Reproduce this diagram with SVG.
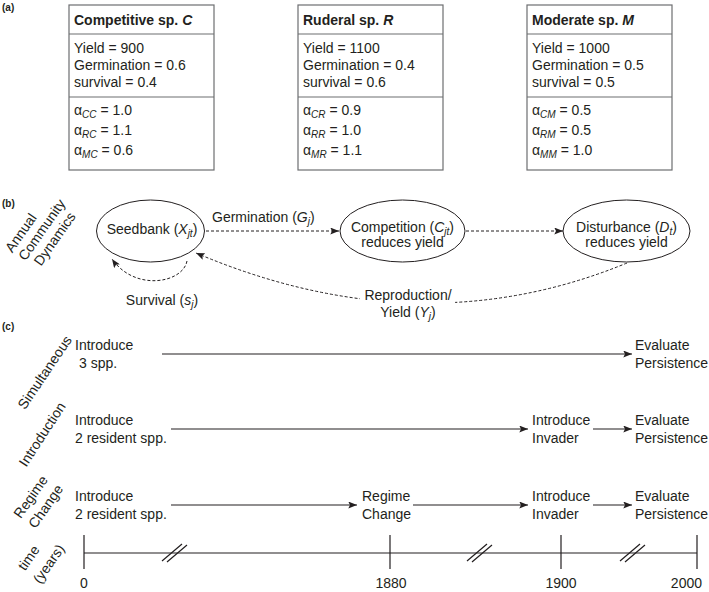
<svg xmlns="http://www.w3.org/2000/svg" width="709" height="592" viewBox="0 0 709 592">
<style>
text { font-family: "Liberation Sans", Arial, sans-serif; font-size: 14px; fill: #231f20; }
.b { font-weight: bold; }
.i { font-style: italic; }
.sub { font-size: 10px; font-style: italic; }
.lbl { font-weight: bold; font-size: 10px; }
.m { text-anchor: middle; }
.box { fill: #fff; stroke: #6d6e71; stroke-width: 1.2; }
.div { stroke: #6d6e71; stroke-width: 1.2; }
.ell { fill: #fff; stroke: #231f20; stroke-width: 1; }
.solid { stroke: #231f20; stroke-width: 1.2; fill: none; }
.dash { stroke: #231f20; stroke-width: 1; stroke-dasharray: 3 2; fill: none; }
</style>
<defs>
<marker id="ah" viewBox="0 0 10 8" refX="10" refY="4" markerWidth="9" markerHeight="7" markerUnits="userSpaceOnUse" orient="auto">
<path d="M0,0 L10,4 L0,8 L2,4 z" fill="#231f20"/>
</marker>
<mask id="gap" maskUnits="userSpaceOnUse" x="0" y="0" width="709" height="592">
<rect x="0" y="0" width="709" height="592" fill="#fff"/>
<rect x="360" y="285" width="95" height="38" fill="#000"/>
</mask>
</defs>
<rect width="709" height="592" fill="#fff"/>

<!-- panel labels -->
<text class="lbl" x="2" y="11">(a)</text>
<text class="lbl" x="2" y="207">(b)</text>
<text class="lbl" x="2" y="330">(c)</text>

<!-- (a) species boxes -->
<g id="box-C">
<rect class="box" x="69" y="5" width="145" height="165"/>
<line class="div" x1="69" y1="34" x2="214" y2="34"/>
<line class="div" x1="69" y1="97" x2="214" y2="97"/>
<text class="b" x="74" y="25">Competitive sp. <tspan class="i">C</tspan></text>
<text x="74" y="53">Yield = 900</text>
<text x="74" y="70">Germination = 0.6</text>
<text x="74" y="87">survival = 0.4</text>
<text x="74" y="115">α<tspan class="sub" dy="3">CC</tspan><tspan dy="-3"> = 1.0</tspan></text>
<text x="74" y="135">α<tspan class="sub" dy="3">RC</tspan><tspan dy="-3"> = 1.1</tspan></text>
<text x="74" y="155">α<tspan class="sub" dy="3">MC</tspan><tspan dy="-3"> = 0.6</tspan></text>
</g>
<g id="box-R">
<rect class="box" x="298" y="5" width="145" height="165"/>
<line class="div" x1="298" y1="34" x2="443" y2="34"/>
<line class="div" x1="298" y1="97" x2="443" y2="97"/>
<text class="b" x="303" y="25">Ruderal sp. <tspan class="i">R</tspan></text>
<text x="303" y="53">Yield = 1100</text>
<text x="303" y="70">Germination = 0.4</text>
<text x="303" y="87">survival = 0.6</text>
<text x="303" y="115">α<tspan class="sub" dy="3">CR</tspan><tspan dy="-3"> = 0.9</tspan></text>
<text x="303" y="135">α<tspan class="sub" dy="3">RR</tspan><tspan dy="-3"> = 1.0</tspan></text>
<text x="303" y="155">α<tspan class="sub" dy="3">MR</tspan><tspan dy="-3"> = 1.1</tspan></text>
</g>
<g id="box-M">
<rect class="box" x="527" y="5" width="145" height="165"/>
<line class="div" x1="527" y1="34" x2="672" y2="34"/>
<line class="div" x1="527" y1="97" x2="672" y2="97"/>
<text class="b" x="532" y="25">Moderate sp. <tspan class="i">M</tspan></text>
<text x="532" y="53">Yield = 1000</text>
<text x="532" y="70">Germination = 0.5</text>
<text x="532" y="87">survival = 0.5</text>
<text x="532" y="115">α<tspan class="sub" dy="3">CM</tspan><tspan dy="-3"> = 0.5</tspan></text>
<text x="532" y="135">α<tspan class="sub" dy="3">RM</tspan><tspan dy="-3"> = 0.5</tspan></text>
<text x="532" y="155">α<tspan class="sub" dy="3">MM</tspan><tspan dy="-3"> = 1.0</tspan></text>
</g>

<!-- (b) rotated label -->
<g id="label-b">
<text class="m" transform="translate(21,233) rotate(-55)" y="4.5">Annual</text>
<text class="m" transform="translate(42,230) rotate(-55)" y="4.5">Community</text>
<text class="m" transform="translate(55,239) rotate(-55)" y="4.5">Dynamics</text>
</g>

<!-- (b) connectors -->
<g id="connectors-b">
<line class="dash" x1="206" y1="231" x2="339" y2="231" marker-end="url(#ah)"/>
<line class="dash" x1="466" y1="231" x2="563" y2="231" marker-end="url(#ah)"/>
<path class="dash" d="M187,261 C183,283 135,292 112,259" marker-end="url(#ah)"/>
<path class="dash" d="M627,263 Q420,348 196,253" mask="url(#gap)" marker-end="url(#ah)"/>
<text x="212" y="222">Germination (<tspan class="i">G</tspan><tspan class="sub" dy="3">j</tspan><tspan dy="-3">)</tspan></text>
<text class="m" x="162" y="305">Survival (<tspan class="i">s</tspan><tspan class="sub" dy="3">j</tspan><tspan dy="-3">)</tspan></text>
<text class="m" x="408" y="300">Reproduction/</text>
<text class="m" x="408" y="317">Yield (<tspan class="i">Y</tspan><tspan class="sub" dy="3">j</tspan><tspan dy="-3">)</tspan></text>
</g>

<!-- (b) nodes -->
<g id="seedbank">
<ellipse class="ell" cx="150.5" cy="231" rx="54" ry="31"/>
<text class="m" x="152" y="234">Seedbank (<tspan class="i">X</tspan><tspan class="sub" dy="3">jt</tspan><tspan dy="-3">)</tspan></text>
</g>
<g id="competition">
<ellipse class="ell" cx="402.5" cy="231" rx="62.5" ry="31"/>
<text class="m" x="402.5" y="232">Competition (<tspan class="i">C</tspan><tspan class="sub" dy="3">jt</tspan><tspan dy="-3">)</tspan></text>
<text class="m" x="402.5" y="247">reduces yield</text>
</g>
<g id="disturbance">
<ellipse class="ell" cx="626.5" cy="231" rx="63.5" ry="31"/>
<text class="m" x="626.5" y="232">Disturbance (<tspan class="i">D</tspan><tspan class="sub" dy="3">t</tspan><tspan dy="-3">)</tspan></text>
<text class="m" x="626.5" y="247">reduces yield</text>
</g>

<!-- (c) row labels -->
<g id="labels-c">
<text class="m" transform="translate(45,372.5) rotate(-56)" y="4.5">Simultaneous</text>
<text class="m" transform="translate(42.5,434.5) rotate(-57)" y="4.5">Introduction</text>
<text class="m" transform="translate(31,497) rotate(-55)" y="4.5">Regime</text>
<text class="m" transform="translate(46,506.5) rotate(-55)" y="4.5">Change</text>
<text class="m" transform="translate(29,558) rotate(-55)" y="4.5">time</text>
<text class="m" transform="translate(49,564) rotate(-55)" y="4.5">(years)</text>
</g>

<!-- (c) scenario nodes -->
<g id="sim-start"><text x="75" y="350">Introduce</text><text x="79" y="367.5">3 spp.</text></g>
<g id="sim-end"><text x="635" y="350">Evaluate</text><text x="635" y="367.5">Persistence</text></g>
<g id="intro-start"><text x="75" y="425">Introduce</text><text x="75" y="442.5">2 resident spp.</text></g>
<g id="intro-invader"><text x="532" y="425">Introduce</text><text x="532" y="442.5">Invader</text></g>
<g id="intro-end"><text x="635" y="425">Evaluate</text><text x="635" y="442.5">Persistence</text></g>
<g id="regime-start"><text x="75" y="501">Introduce</text><text x="75" y="518.5">2 resident spp.</text></g>
<g id="regime-change"><text x="362" y="501">Regime</text><text x="362" y="518.5">Change</text></g>
<g id="regime-invader"><text x="532" y="501">Introduce</text><text x="532" y="518.5">Invader</text></g>
<g id="regime-end"><text x="635" y="501">Evaluate</text><text x="635" y="518.5">Persistence</text></g>

<!-- (c) connectors -->
<g id="connectors-c">
<line class="solid" x1="162" y1="354" x2="632" y2="354" marker-end="url(#ah)"/>
<line class="solid" x1="171" y1="429" x2="528" y2="429" marker-end="url(#ah)"/>
<line class="solid" x1="593" y1="429" x2="632" y2="429" marker-end="url(#ah)"/>
<line class="solid" x1="171" y1="505" x2="357" y2="505" marker-end="url(#ah)"/>
<line class="solid" x1="413" y1="505" x2="528" y2="505" marker-end="url(#ah)"/>
<line class="solid" x1="593" y1="505" x2="632" y2="505" marker-end="url(#ah)"/>
</g>

<!-- timeline -->
<g id="timeline">
<line class="solid" x1="84" y1="553" x2="697" y2="553"/>
<line class="solid" x1="84" y1="535" x2="84" y2="569"/>
<line class="solid" x1="390" y1="535" x2="390" y2="569"/>
<line class="solid" x1="561" y1="535" x2="561" y2="569"/>
<line class="solid" x1="697" y1="535" x2="697" y2="569"/>
<path class="solid" d="M162,561 L182,544 M167,562 L187,545"/>
<path class="solid" d="M467,561 L487,544 M472,562 L492,545"/>
<path class="solid" d="M620,561 L640,544 M625,562 L645,545"/>
<text class="m" x="84" y="588">0</text>
<text class="m" x="391" y="588">1880</text>
<text class="m" x="561" y="588">1900</text>
<text x="702" y="588" text-anchor="end">2000</text>
</g>
</svg>
